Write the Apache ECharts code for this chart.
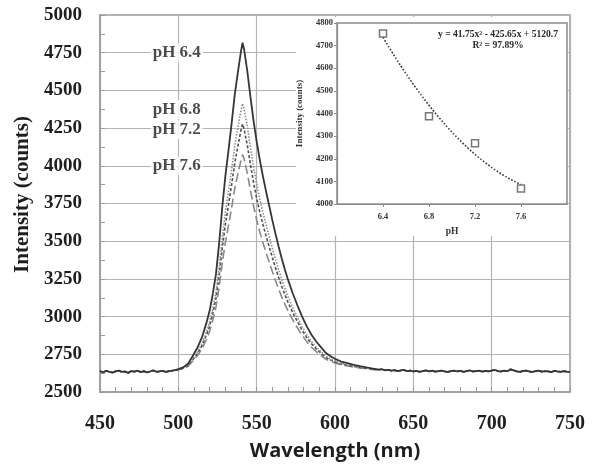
<!DOCTYPE html>
<html>
<head>
<meta charset="utf-8">
<script src="https://cdn.jsdelivr.net/npm/echarts@6/dist/echarts.min.js"></script>
<style>
  html, body { margin: 0; padding: 0; background: #fff; }
  #chart { width: 594px; height: 464px; }
</style>
</head>
<body>
<div id="chart"></div>
<script>
// Flat background on the blue side of the band (shared by every spectrum)
const wlLeft = [450,452,454,456,458,460,462,464,466,468,470,472,474,476,478,480,482,484,486,488,490,492,494,496,498];
const baseLeft = [2638,2631,2640,2634,2629,2637,2642,2633,2636,2627,2639,2635,2641,2632,2638,2630,2636,2643,2634,2637,2640,2633,2638,2641,2645];

// Emission band, sampled more densely around the maximum
const wlPeak = [500,503,506,509,512,515,518,520,522,524,526,528,530,532,534,536,538,540,541,542,544,546,548,550,552,554,556,558,560,562,564,566,568,570,573,576,579,582,585,588,591,594,597,600,604,608,612,616,620,625];
const ph64Peak = [2652,2663,2685,2735,2790,2860,2960,3040,3150,3280,3480,3720,3930,4100,4280,4470,4620,4760,4816,4770,4630,4460,4300,4160,4040,3930,3830,3735,3640,3550,3465,3385,3312,3245,3155,3075,3000,2935,2880,2835,2798,2760,2738,2720,2702,2691,2680,2671,2663,2654];
const ph68Peak = [2649,2658,2676,2717,2762,2819,2900,2965,3055,3161,3324,3520,3691,3829,3976,4131,4253,4367,4412,4375,4261,4123,3992,3878,3780,3691,3609,3532,3454,3381,3312,3247,3187,3133,3059,2994,2933,2880,2835,2798,2768,2737,2719,2705,2690,2681,2672,2665,2658,2651];
const ph72Peak = [2648,2657,2673,2711,2752,2805,2880,2940,3023,3121,3272,3452,3611,3739,3874,4017,4130,4236,4277,4243,4138,4010,3889,3784,3693,3611,3535,3464,3392,3324,3260,3200,3145,3095,3027,2967,2910,2861,2820,2786,2758,2730,2713,2699,2686,2678,2669,2663,2657,2650];
const ph76Peak = [2647,2654,2669,2702,2738,2784,2850,2903,2976,3061,3193,3352,3490,3603,3721,3847,3946,4038,4074,4045,3952,3840,3735,3642,3563,3490,3424,3362,3299,3240,3183,3131,3083,3038,2979,2926,2877,2834,2797,2768,2743,2718,2704,2692,2680,2673,2665,2659,2654,2648];

// Flat background on the red side of the band (shared by every spectrum)
const wlRight = [628,630,632,634,636,638,640,642,644,646,648,650,652,654,656,658,660,662,664,666,668,670,672,674,676,678,680,682,684,686,688,690,692,694,696,698,700,702,704,706,708,710,712,714,716,718,720,722,724,726,728,730,732,734,736,738,740,742,744,746,748,750];
const baseRight = [2648,2651,2644,2647,2641,2645,2639,2643,2646,2638,2642,2636,2640,2634,2639,2643,2637,2641,2635,2638,2642,2636,2633,2639,2641,2637,2640,2634,2638,2643,2636,2639,2641,2635,2640,2637,2642,2646,2639,2636,2641,2638,2650,2644,2637,2634,2639,2642,2636,2633,2638,2641,2635,2639,2637,2632,2640,2636,2634,2638,2635,2633];

// Curve annotations
const phLabels = ['pH 6.4', 'pH 6.8', 'pH 7.2', 'pH 7.6'];
const phLabelX = 499;
const phLabelY = [4750, 4372, 4239, 4000];

// Inset: peak intensity against pH and its quadratic fit
const insetPH = [6.4, 6.8, 7.2, 7.6];
const insetIntensity = [4754, 4388, 4268, 4069];
const fitCoeffs = [41.75, -425.65, 5120.7]; // a, b, c of y = a x^2 + b x + c, x = sample index 1..4
const fitText = 'y = 41.75x\u00B2 - 425.65x + 5120.7';
const r2Text = 'R\u00B2 = 97.89%';

function spectrum(peak) {
  const out = [];
  wlLeft.forEach((w, i) => out.push([w, baseLeft[i]]));
  wlPeak.forEach((w, i) => out.push([w, peak[i]]));
  wlRight.forEach((w, i) => out.push([w, baseRight[i]]));
  return out;
}

// Fitted curve evaluated from the printed coefficients
const fitLine = [];
for (let k = 0; k <= 60; k++) {
  const t = 1 + k * 0.05;
  const ph = insetPH[0] + (t - 1) * (insetPH[1] - insetPH[0]);
  fitLine.push([ph, fitCoeffs[0] * t * t + fitCoeffs[1] * t + fitCoeffs[2]]);
}

const serif = '"Liberation Serif", "Times New Roman", serif';
const gridGray = '#b3b3b3';

const chart = echarts.init(document.getElementById('chart'), null, { renderer: 'canvas' });

const lineBase = { type: 'line', xAxisIndex: 0, yAxisIndex: 0, showSymbol: false, symbol: 'none', silent: true, animation: false, z: 2 };

// Tick labels drawn through a rich-text style so the serif face is used
function tickLabel(size, color, margin, fmt, extra) {
  return Object.assign({
    margin: margin,
    formatter: v => '{t|' + fmt(v) + '}',
    rich: { t: { fontFamily: serif, fontWeight: 'bold', fontSize: size, color: color, lineHeight: size + 2 } }
  }, extra || {});
}

chart.setOption({
  animation: false,
  backgroundColor: '#fff',
  textStyle: { fontFamily: serif },
  grid: [
    { left: 100, right: 24, top: 15, bottom: 72, show: true, borderColor: '#9a9a9a', borderWidth: 1.5, containLabel: false, outerBoundsMode: 'none' },
    { left: 337, right: 27, top: 23, bottom: 260, show: true, backgroundColor: '#fff', borderColor: '#8c8c8c', borderWidth: 1.5, containLabel: false, outerBoundsMode: 'none', z: 4 }
  ],
  xAxis: [
    {
      gridIndex: 0, type: 'value', min: 450, max: 750, interval: 50,
      axisLine: { show: true, lineStyle: { color: '#9a9a9a', width: 1.5 } },
      axisTick: { show: true, inside: true, length: 5, lineStyle: { color: '#9a9a9a' } },
      minorTick: { show: true, splitNumber: 5, length: 5, lineStyle: { color: '#9a9a9a' } },
      splitLine: { show: true, lineStyle: { color: gridGray, width: 1.2 } },
      axisLabel: tickLabel(20, '#1e1e1e', 21, v => String(v)),
      name: 'Wavelength (nm)', nameLocation: 'middle', nameGap: 49,
      nameTextStyle: { fontFamily: '"Open Sans", Lato, sans-serif', fontWeight: 'bold', fontSize: 20, color: '#1e1e1e' }
    },
    {
      gridIndex: 1, type: 'value', min: 6.0, max: 8.0, interval: 0.4, z: 4,
      axisLine: { show: true, lineStyle: { color: '#8c8c8c', width: 1.2 } },
      axisTick: { show: true, inside: false, length: 3, lineStyle: { color: '#8c8c8c' } },
      splitLine: { show: false },
      axisLabel: tickLabel(8.5, '#333', 8, v => v.toFixed(1), { showMinLabel: false, showMaxLabel: false }),
      name: 'pH', nameLocation: 'middle', nameGap: 23,
      nameTextStyle: { fontFamily: serif, fontWeight: 'bold', fontSize: 9.5, color: '#333' }
    }
  ],
  yAxis: [
    {
      gridIndex: 0, type: 'value', min: 2500, max: 5000, interval: 250,
      axisLine: { show: true, lineStyle: { color: '#9a9a9a', width: 1.5 } },
      axisTick: { show: true, inside: true, length: 5, lineStyle: { color: '#9a9a9a' } },
      minorTick: { show: true, splitNumber: 2, length: 5, lineStyle: { color: '#9a9a9a' } },
      splitLine: { show: true, lineStyle: { color: gridGray, width: 1.2 } },
      axisLabel: tickLabel(19, '#1e1e1e', 18, v => String(v)),
      name: 'Intensity (counts)', nameLocation: 'middle', nameGap: 60,
      nameTextStyle: { fontFamily: serif, fontWeight: 'bold', fontSize: 21, color: '#1e1e1e', padding: [0, 0, 0, 18] }
    },
    {
      gridIndex: 1, type: 'value', min: 4000, max: 4800, interval: 100, z: 4,
      axisLine: { show: true, lineStyle: { color: '#8c8c8c', width: 1.2 } },
      axisTick: { show: true, inside: false, length: 3, lineStyle: { color: '#8c8c8c' } },
      splitLine: { show: false },
      axisLabel: tickLabel(8.5, '#333', 4, v => String(v)),
      name: 'Intensity (counts)', nameLocation: 'middle', nameGap: 33,
      nameTextStyle: { fontFamily: serif, fontWeight: 'bold', fontSize: 9, color: '#333' }
    }
  ],
  graphic: [
    // white panel behind the inset and its labels
    { type: 'rect', z: 3, silent: true, shape: { x: 296, y: 17, width: 271, height: 219 }, style: { fill: '#fff' } },
    { type: 'text', z: 8, x: 498, y: 34.5, silent: true,
      style: { text: fitText, font: 'bold 9.6px ' + serif, fill: '#2a2a2a', align: 'center', verticalAlign: 'middle' } },
    { type: 'text', z: 8, x: 498, y: 45.5, silent: true,
      style: { text: r2Text, font: 'bold 9.6px ' + serif, fill: '#2a2a2a', align: 'center', verticalAlign: 'middle' } }
  ],
  series: [
    Object.assign({}, lineBase, { name: phLabels[3], data: spectrum(ph76Peak), lineStyle: { color: '#8a8a8a', width: 1.6, type: [9, 4] } }),
    Object.assign({}, lineBase, { name: phLabels[2], data: spectrum(ph72Peak), lineStyle: { color: '#505050', width: 1.6, type: [3, 2] } }),
    Object.assign({}, lineBase, { name: phLabels[1], data: spectrum(ph68Peak), lineStyle: { color: '#8c8c8c', width: 1.6, type: [1.5, 1.5] } }),
    Object.assign({}, lineBase, { name: phLabels[0], data: spectrum(ph64Peak), lineStyle: { color: '#363636', width: 1.8, type: 'solid' } }),
    {
      type: 'scatter', xAxisIndex: 0, yAxisIndex: 0, symbolSize: 0, silent: true, z: 3,
      data: phLabels.map((t, i) => [phLabelX, phLabelY[i], t]),
      label: {
        show: true, position: 'inside', formatter: p => p.value[2],
        fontFamily: serif, fontWeight: 'bold', fontSize: 17, color: '#1e1e1e',
        backgroundColor: '#fff', padding: [1, 2]
      }
    },
    {
      type: 'line', xAxisIndex: 1, yAxisIndex: 1, data: fitLine, showSymbol: false, symbol: 'none', smooth: true, silent: true, z: 5,
      lineStyle: { color: '#3c3c3c', width: 1.6, type: [1.6, 1.8] }
    },
    {
      type: 'scatter', xAxisIndex: 1, yAxisIndex: 1, symbol: 'rect', symbolSize: 7, silent: true, z: 6,
      data: insetPH.map((p, i) => [p, insetIntensity[i]]),
      itemStyle: { color: '#fff', borderColor: '#555', borderWidth: 1.5 }
    }
  ]
});
</script>
</body>
</html>
